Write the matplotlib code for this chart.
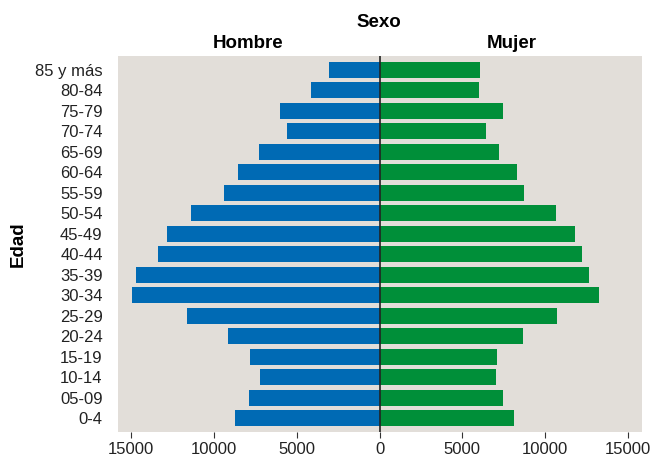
import numpy as np
import matplotlib
matplotlib.use("Agg")
from matplotlib import pyplot as plt

plt.rcParams['font.family'] = ['Liberation Sans', 'DejaVu Sans']

# age groups, bottom to top
edades = ["0-4", "05-09", "10-14", "15-19", "20-24", "25-29", "30-34", "35-39",
          "40-44", "45-49", "50-54", "55-59", "60-64", "65-69", "70-74", "75-79",
          "80-84", "85 y más"]
hombre = [8720, 7880, 7220, 7820, 9150, 11620, 14940, 14700,
          13380, 12830, 11380, 9390, 8540, 7280, 5590, 6000, 4140, 3050]
mujer = [8120, 7460, 7040, 7100, 8670, 10720, 13250, 12650,
         12230, 11810, 10660, 8730, 8300, 7220, 6430, 7460, 6000, 6070]

fig = plt.figure(figsize=(6.5, 4.58), dpi=100)
ax = fig.add_axes([0.1815, 0.0568, 0.8062, 0.8209])
ax.set_facecolor("#e2ded9")

y = np.arange(len(edades))
ax.barh(y, -np.array(hombre), height=0.8, color="#006ab4")
ax.barh(y, mujer, height=0.8, color="#008f39")
ax.axvline(0, color="#222222", lw=1.2)

ax.set_xlim(-15800, 15850)
ax.set_ylim(-0.67, len(edades) - 0.33)
ticks = [-15000, -10000, -5000, 0, 5000, 10000, 15000]
ax.set_xticks(ticks)
ax.set_xticklabels([str(abs(t)) for t in ticks], fontsize=12, color="#222222")
ax.set_yticks(y)
ax.set_yticklabels(edades, fontsize=12, color="#222222")
ax.tick_params(axis="y", length=0, pad=11)
ax.tick_params(axis="x", length=4, color="#333333", pad=3)
for s in ax.spines.values():
    s.set_visible(False)

ax.set_ylabel("Edad", fontsize=13.5, fontweight="bold", labelpad=6)
fig.text(0.5835, 0.950, "Sexo", ha="center", va="center", fontsize=13.5, fontweight="bold")
fig.text(0.382, 0.905, "Hombre", ha="center", va="center", fontsize=13.5, fontweight="bold")
fig.text(0.787, 0.905, "Mujer", ha="center", va="center", fontsize=13.5, fontweight="bold")

fig.savefig("out.png", dpi=100)
